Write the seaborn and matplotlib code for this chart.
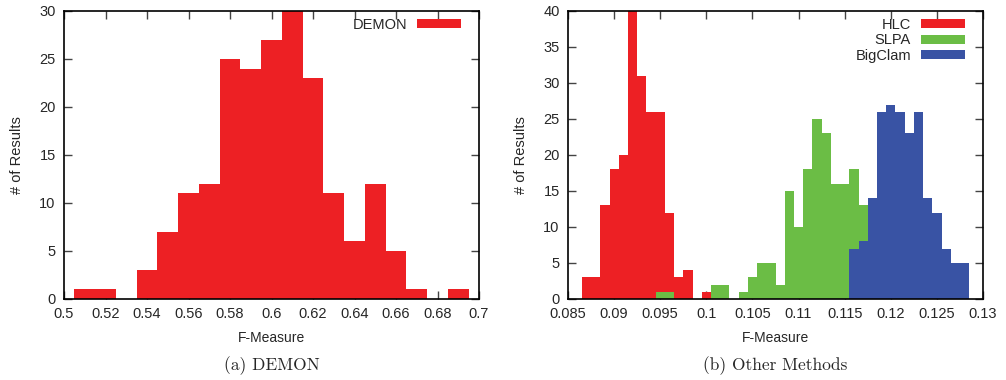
import seaborn as sns
import pandas as pd
import matplotlib.pyplot as plt

# (a) DEMON histogram, bin centers and counts
demon_x = [0.51, 0.52, 0.53, 0.54, 0.55, 0.56, 0.57, 0.58, 0.59, 0.60,
           0.61, 0.62, 0.63, 0.64, 0.65, 0.66, 0.67, 0.68, 0.69]
demon_n = [1, 1, 0, 3, 7, 11, 12, 25, 24, 27, 30, 23, 11, 6, 12, 5, 1, 0, 1]

# (b) other methods, bin width 0.001
hlc_x = [0.087, 0.088, 0.089, 0.090, 0.091, 0.092, 0.093, 0.094, 0.095,
         0.096, 0.097, 0.098, 0.099, 0.100]
hlc_n = [3, 3, 13, 18, 20, 40, 31, 26, 26, 12, 3, 4, 0, 1]

slpa_x = [0.095, 0.096, 0.097, 0.098, 0.099, 0.100, 0.101, 0.102, 0.103,
          0.104, 0.105, 0.106, 0.107, 0.108, 0.109, 0.110, 0.111, 0.112,
          0.113, 0.114, 0.115, 0.116, 0.117]
slpa_n = [1, 1, 0, 0, 0, 0, 2, 2, 0, 1, 3, 5, 5, 2, 15, 10, 18, 25, 23,
          16, 16, 18, 13]

bigclam_x = [0.116, 0.117, 0.118, 0.119, 0.120, 0.121, 0.122, 0.123, 0.124,
             0.125, 0.126, 0.127, 0.128]
bigclam_n = [7, 8, 14, 26, 27, 26, 23, 26, 14, 12, 7, 5, 5]

left_ticks = [0.5, 0.52, 0.54, 0.56, 0.58, 0.6, 0.62, 0.64, 0.66, 0.68, 0.7]
left_labels = ["0.5", "0.52", "0.54", "0.56", "0.58", "0.6", "0.62", "0.64",
               "0.66", "0.68", "0.7"]
right_ticks = [0.085, 0.09, 0.095, 0.1, 0.105, 0.11, 0.115, 0.12, 0.125, 0.13]
right_labels = ["0.085", "0.09", "0.095", "0.1", "0.105", "0.11", "0.115",
                "0.12", "0.125", "0.13"]

RED = "#ed2024"
GREEN = "#6bbd45"
BLUE = "#3953a4"


def style_axes(ax):
    ax.tick_params(direction="in", top=True, right=True, length=6, width=1,
                   color="#444444", labelsize=10.5, pad=6)
    for s in ax.spines.values():
        s.set_linewidth(1.2)
        s.set_color("black")
    ax.set_ylabel("# of Results", fontsize=10.5, labelpad=11)
    ax.set_xlabel("F-Measure", fontsize=10, labelpad=7)


def main():
    sns.set_style("ticks")
    plt.rcParams["font.family"] = ["Liberation Sans", "DejaVu Sans"]

    fig = plt.figure(figsize=(10.06, 3.8), dpi=100)
    ax1 = fig.add_axes([64 / 1006, 1 - 299 / 380, 415 / 1006, 288 / 380])
    ax2 = fig.add_axes([568 / 1006, 1 - 299 / 380, 415 / 1006, 288 / 380])

    d1 = pd.DataFrame({"x": demon_x, "n": demon_n})
    sns.histplot(data=d1, x="x", weights="n", binwidth=0.01,
                 binrange=(0.505, 0.695), color=RED, alpha=1, linewidth=0,
                 label="DEMON", ax=ax1)
    ax1.set_xlim(0.5, 0.7)
    ax1.set_ylim(0, 30)
    ax1.set_xticks(left_ticks, left_labels)
    ax1.set_yticks(range(0, 31, 5))
    style_axes(ax1)

    for xs, ns, c, name in [(hlc_x, hlc_n, RED, "HLC"),
                            (slpa_x, slpa_n, GREEN, "SLPA"),
                            (bigclam_x, bigclam_n, BLUE, "BigClam")]:
        d = pd.DataFrame({"x": xs, "n": ns})
        sns.histplot(data=d, x="x", weights="n", binwidth=0.001,
                     binrange=(xs[0] - 0.0005, xs[-1] + 0.0005), color=c,
                     alpha=1, linewidth=0, label=name, ax=ax2)
    ax2.set_xlim(0.085, 0.13)
    ax2.set_ylim(0, 40)
    ax2.set_xticks(right_ticks, right_labels)
    ax2.set_yticks(range(0, 41, 5))
    style_axes(ax2)

    for ax in (ax1, ax2):
        ax.legend(loc="upper right", bbox_to_anchor=(1 - 18 / 415, 1 - 7 / 288),
                  frameon=False, markerfirst=False, fontsize=10.5,
                  handlelength=3.0, handleheight=0.6, handletextpad=0.7,
                  labelspacing=0.1, borderaxespad=0, borderpad=0)

    fig.text(271.5 / 1006, 1 - 366 / 380, "(a) DEMON", ha="center",
             va="center", fontsize=12.5, family="cmr10")
    fig.text(775.5 / 1006, 1 - 366 / 380, "(b) Other Methods", ha="center",
             va="center", fontsize=12.5, family="cmr10")

    plt.savefig("out.png", dpi=100)


if __name__ == "__main__":
    main()
